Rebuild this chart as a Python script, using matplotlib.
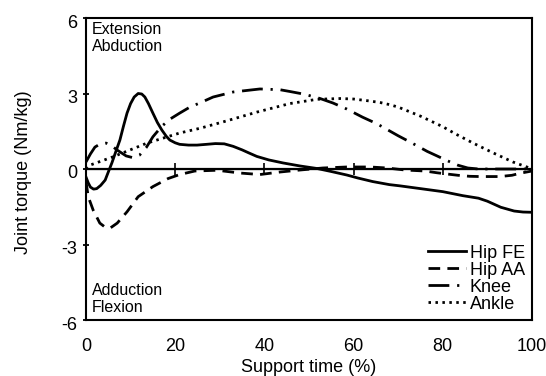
import matplotlib
matplotlib.use("Agg")
import matplotlib.pyplot as plt
from matplotlib.transforms import ScaledTranslation

plt.rcParams['font.family'] = ['Liberation Sans', 'DejaVu Sans']
plt.rcParams['axes.unicode_minus'] = False

# ---- data ----
hip_fe_x = [0, 0.5, 1, 1.7, 2.4, 3.3, 4.3, 5, 5.8, 6.7, 7.6, 8.4, 9.2, 10, 10.8, 11.7,
            12.5, 13.2, 14, 15, 16, 17, 18, 18.8, 20, 21, 23, 24.9, 27, 29, 31, 33,
            35, 36.5, 38.3, 41, 44.2, 48, 51.8, 55, 58.5, 61, 64.3, 68, 70.4, 75, 80,
            84.5, 88, 90, 93, 96, 98, 100]
hip_fe_y = [-0.32, -0.55, -0.72, -0.8, -0.78, -0.65, -0.44, -0.12, 0.24, 0.7, 1.15,
            1.7, 2.22, 2.6, 2.86, 3.0, 2.98, 2.86, 2.6, 2.22, 1.85, 1.55, 1.3, 1.15,
            1.04, 0.98, 0.95, 0.95, 0.98, 1.01, 1.0, 0.9, 0.76, 0.64, 0.5, 0.36,
            0.24, 0.12, 0.02, -0.1, -0.24, -0.36, -0.5, -0.62, -0.67, -0.78, -0.9,
            -1.06, -1.16, -1.28, -1.52, -1.67, -1.71, -1.72]

hip_aa_x = [0, 0.5, 1.6, 3.1, 4.2, 5.4, 7, 9.2, 11.7, 15, 18.4, 21, 24.4, 29.4, 34.5,
            39, 43.5, 48, 53.1, 58.5, 63.7, 67.5, 71.5, 76, 78.7, 81, 83.4, 86, 88.3,
            90.5, 92.8, 95.5, 97.3, 100]
hip_aa_y = [-0.5, -1.1, -1.63, -2.15, -2.3, -2.35, -2.15, -1.7, -1.1, -0.7, -0.38,
            -0.22, -0.08, -0.05, -0.16, -0.22, -0.12, -0.04, 0.04, 0.08, 0.08, 0.04,
            -0.04, -0.08, -0.15, -0.2, -0.25, -0.29, -0.3, -0.3, -0.3, -0.25, -0.17,
            -0.08]

knee_x = [0, 1, 2, 3.2, 4.5, 5.8, 7, 9, 10.5, 12, 13.5, 15, 17, 19, 21, 23.3, 25.6,
          28.5, 33, 39, 43.5, 45.7, 49, 52.5, 55.4, 58.5, 62, 65.2, 67.5, 70, 73,
          76.5, 78.7, 81, 83.4, 85.6, 88, 93, 100]
knee_y = [0.28, 0.6, 0.87, 1.0, 1.03, 0.92, 0.75, 0.52, 0.45, 0.55, 0.85, 1.28, 1.7,
          2.0, 2.22, 2.46, 2.63, 2.86, 3.06, 3.18, 3.15, 3.08, 2.97, 2.8, 2.62, 2.38,
          2.06, 1.8, 1.57, 1.32, 1.04, 0.7, 0.52, 0.33, 0.15, 0.04, 0.0, 0.0, 0.0]

ankle_x = [0, 1, 6, 13.7, 21, 25.6, 30.7, 38.3, 45.7, 51.8, 57, 60, 63.7, 66, 68, 70,
           75, 80, 83, 86.8, 91.3, 95.7, 99, 100]
ankle_y = [0.0, 0.16, 0.48, 1.03, 1.43, 1.62, 1.87, 2.26, 2.6, 2.77, 2.8, 2.78, 2.7,
           2.64, 2.56, 2.46, 2.1, 1.68, 1.38, 1.03, 0.64, 0.28, 0.07, 0.0]

series_labels = ['Hip FE', 'Hip AA', 'Knee', 'Ankle']
xticks = [0, 20, 40, 60, 80, 100]
yticks = [-6, -3, 0, 3, 6]
zero_ticks = [20, 40, 60, 80]

W, H = 546, 376
fig = plt.figure(figsize=(W / 100, H / 100), dpi=100)
ax = fig.add_axes([86 / W, 1 - 320 / H, 446 / W, 302 / H])

lw = 2.0
ax.axhline(0, color='black', lw=1.6, zorder=1)
ax.plot(hip_fe_x, hip_fe_y, color='black', lw=lw, ls='-', label=series_labels[0])
ax.plot(hip_aa_x, hip_aa_y, color='black', lw=lw, ls=(0, (4.2, 2.6)), label=series_labels[1])
ax.plot(knee_x, knee_y, color='black', lw=lw, ls=(0, (7.5, 2.8, 0.8, 2.8)), label=series_labels[2])
ax.plot(ankle_x, ankle_y, color='black', lw=lw, ls=(0, (0.9, 1.6)), label=series_labels[3])

ax.set_xlim(0, 100)
ax.set_ylim(-6, 6)
ax.set_xticks(xticks)
ax.set_yticks(yticks)
ax.tick_params(axis='x', length=0, pad=13, labelsize=13)
ax.tick_params(axis='y', direction='inout', length=5, width=1.3, pad=4, labelsize=13)
off = ScaledTranslation(0, -3 / 100, fig.dpi_scale_trans)
for lab in ax.get_yticklabels():
    lab.set_transform(lab.get_transform() + off)
for s in ax.spines.values():
    s.set_linewidth(1.5)

# small ticks on the zero line
sec = ax.secondary_xaxis(0.5)
sec.set_xticks(zero_ticks)
sec.set_xticklabels([])
sec.tick_params(direction='inout', length=9, width=1.2)
sec.spines['bottom'].set_linewidth(1.6)

ax.text(1.3, 5.85, 'Extension\nAbduction', fontsize=11.5, va='top', ha='left')
ax.text(1.3, -5.8, 'Adduction\nFlexion', fontsize=11.5, va='bottom', ha='left')

ax.legend(loc='lower right', frameon=False, fontsize=13, handlelength=2.1,
          handletextpad=0.2, labelspacing=0.0, borderpad=0.0, borderaxespad=0.4)

fig.text(309 / W, 1 - 367 / H, 'Support time (%)', fontsize=13, ha='center', va='center')
fig.text(24 / W, 1 - 172 / H, 'Joint torque (Nm/kg)', fontsize=13, ha='center',
         va='center', rotation=90)

fig.savefig('out.png', dpi=100)
